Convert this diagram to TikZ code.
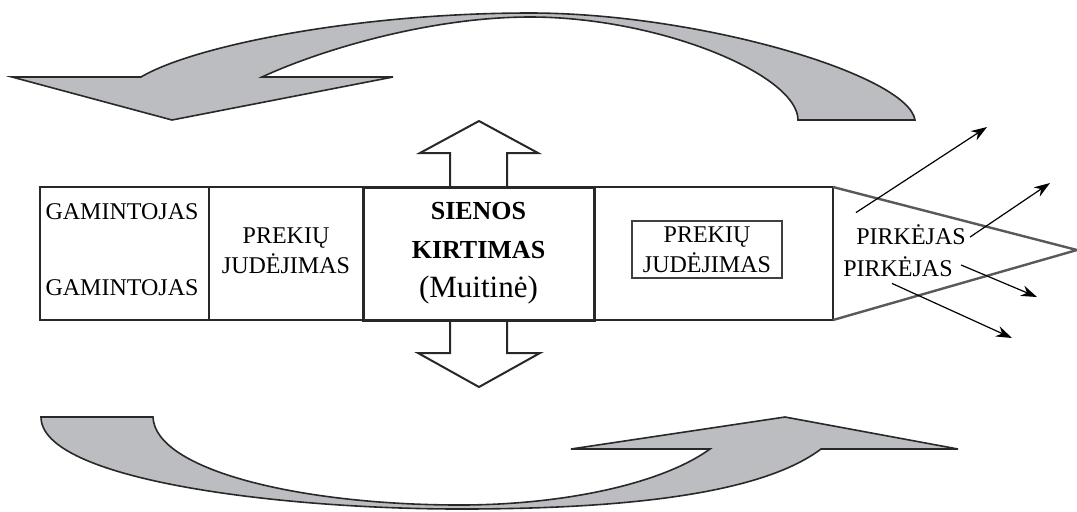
\documentclass[tikz,border=0pt]{standalone}
\usepackage{fontspec}
\setmainfont{Liberation Serif}
\usepackage{tikz}
\usetikzlibrary{arrows.meta, positioning}
\usepackage{xcolor}
\definecolor{flowgray}{RGB}{188, 189, 193}
\definecolor{framegray}{RGB}{40, 40, 40}

\begin{document}
\begin{tikzpicture}[x=0.5pt, y=-0.5pt,
    flow/.style={draw=framegray, line width=0.8pt, fill=flowgray},
    hollow/.style={draw=framegray, line width=1pt, fill=white},
    txt/.style={font=\fontsize{12}{15}\selectfont, align=center, inner sep=0pt},
    sale/.style={-{Stealth[length=8pt, width=5.5pt]}, line width=0.6pt}]
    \useasboundingbox (0,0) rectangle (1077,511);
    \draw[flow] (12,77) -- (141,77) .. controls (195,45) and (360,13) .. (530,13)
          .. controls (700,13) and (908,75) .. (915,120) -- (798,120)
          .. controls (798,75) and (660,17) .. (530,17)
          .. controls (430,17) and (320,50) .. (262,77) -- (393,77) -- (172,120) -- cycle;
    \draw[flow] (41,417) -- (153,417) .. controls (155,470) and (300,505) .. (460,505)
          .. controls (560,505) and (660,485) .. (710,449) -- (571,449) -- (785,417)
          -- (958,449) -- (821,449) .. controls (760,495) and (620,509) .. (460,509)
          .. controls (280,509) and (41,480) .. (41,417) -- cycle;
    \draw[hollow] (450,187) -- (450,153) -- (420,153) -- (479,121) -- (538,153) -- (507,153) -- (507,187);
    \draw[hollow] (450,320) -- (450,353) -- (418,353) -- (479,387) -- (540,353) -- (507,353) -- (507,320);
    \draw[line width=1pt, framegray] (40,187) rectangle (833,320);
    \draw[line width=1pt, framegray] (209,187) -- (209,320);
    \draw[line width=1.2pt, black!65] (833,187) -- (1077,250) -- (833,320);
    \node[txt] (gam1) at (122,212) {GAMINTOJAS};
    \node[txt] (gam2) at (122,288) {GAMINTOJAS};
    \node[txt] (judej1) at (286,251) {PREKIŲ\\JUDĖJIMAS};
    \node[draw=framegray, fill=white, line width=1.5pt, minimum width=115.5pt, minimum height=66.5pt,
          align=center, font=\fontsize{13}{19.5}\selectfont] (muitine) at (478.5,253.5)
          {\textbf{SIENOS}\\\textbf{KIRTIMAS}\\[0pt]{\fontsize{15.5}{18}\selectfont (Muitinė)}};
    \node[txt, draw=black!75, line width=0.8pt, minimum width=75pt, minimum height=28.5pt] (judej2) at (707,249.5) {PREKIŲ\\JUDĖJIMAS};
    \node[txt] (pirk1) at (911,235) {PIRKĖJAS};
    \node[txt] (pirk2) at (898,267) {PIRKĖJAS};
    \coordinate (out1) at (987,127);
    \coordinate (out2) at (1050,183);
    \coordinate (out3) at (1037,297);
    \coordinate (out4) at (1012,338);
    \draw[sale] ([yshift=6pt]pirk1.north west) -- (out1);
    \draw[sale] ([xshift=2pt, yshift=-1pt]pirk1.east) -- (out2);
    \draw[sale] ([xshift=4pt, yshift=1pt]pirk2.east) -- (out3);
    \draw[sale] ([shift={(-3pt,-3pt)}]pirk2.south) -- (out4);
\end{tikzpicture}
\end{document}
